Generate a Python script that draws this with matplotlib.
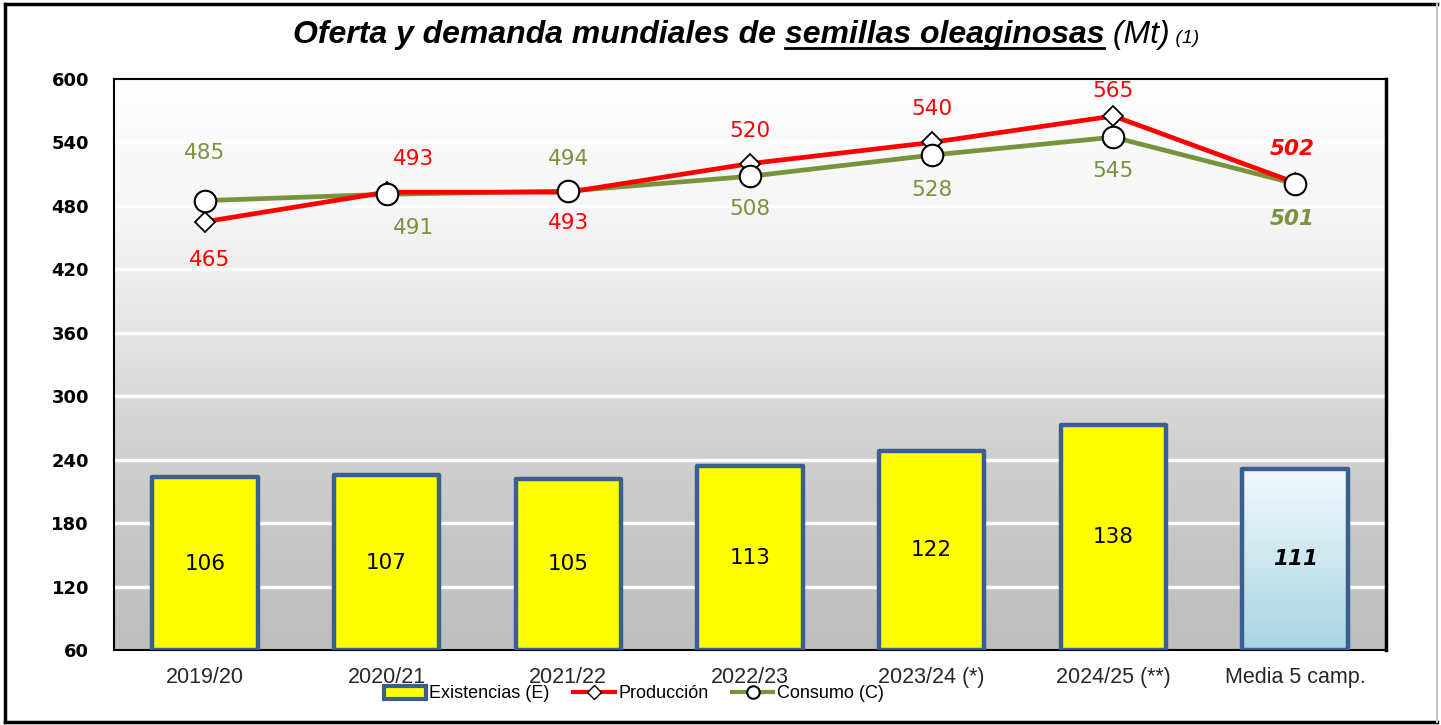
import numpy as np
import matplotlib
matplotlib.use("Agg")
import matplotlib.pyplot as plt
import matplotlib.patches as mpatches
import matplotlib.lines as mlines

# data
campaigns = ['2019/20', '2020/21', '2021/22', '2022/23', '2023/24 (*)', '2024/25 (**)', 'Media 5 camp.']
existencias = [106, 107, 105, 113, 122, 138, 111]
produccion = [465, 493, 493, 520, 540, 565, 502]
consumo = [485, 491, 494, 508, 528, 545, 501]
y_ticks = [60, 120, 180, 240, 300, 360, 420, 480, 540, 600]

# label offsets in pixels (dx, dy)
prod_off = [(5, -38), (27, 33), (0, -31), (0, 33), (0, 33), (0, 25), (-3, 34)]
cons_off = [(0, 48), (27, -34), (0, 32), (0, -33), (0, -35), (0, -34), (-3, -35)]

# background shade (grey level) at each gridline
shade_vals = [60, 120, 180, 240, 300, 360, 420, 480, 540, 600]
shade_lvls = [190, 195, 200, 207, 217, 228, 238, 246, 250, 255]

RED = '#FF0000'
GREEN = '#77933C'
EDGE = '#3A5F8F'
NUMFONT = ['DejaVu Sans']
TXTFONT = ['Liberation Sans', 'DejaVu Sans']

W, H = 1441, 725
fig = plt.figure(figsize=(W / 100, H / 100), dpi=100)
fig.patch.set_facecolor('white')

rect = [114 / W, 1 - 650 / H, 1272 / W, 571 / H]
ax = fig.add_axes(rect)
x = np.arange(len(campaigns))

# background gradient + grid
yy = np.linspace(600, 60, 540)
g = np.interp(yy, shade_vals, shade_lvls) / 255.0
img = np.repeat(g[:, None, None], 3, axis=2)
ax.imshow(img, extent=[-0.5, 6.5, 60, 600], aspect='auto', zorder=0, origin='upper')
for yv in y_ticks[1:-1]:
    ax.axhline(yv, color='white', lw=2.5, zorder=1)
ax.set_xlim(-0.5, 6.5)
ax.set_ylim(60, 600)
ax.set_yticks(y_ticks)
ax.set_yticklabels([str(v) for v in y_ticks], fontsize=13, fontweight='bold', family=NUMFONT)
ax.set_xticks(x)
ax.set_xticklabels(campaigns, fontsize=15.5, family=TXTFONT, color='#262626')
ax.tick_params(length=0, pad=12)
ax.tick_params(axis='y', pad=18)
for s in ax.spines.values():
    s.set_color('black')
    s.set_linewidth(1.5)
ax.spines['right'].set_linewidth(2.5)

# bars (secondary hidden scale)
axb = ax.twinx()
axb.set_ylim(0, 350)
axb.set_xlim(-0.5, 6.5)
axb.axis('off')
bw = 0.58
colors = ['#FFFF00'] * 6 + ['none']
bars = axb.bar(x, existencias, width=bw, color=colors, edgecolor=EDGE, linewidth=3.2, zorder=2)
for b in bars:
    b.set_joinstyle('round')
last = bars[-1]
bgrad = np.linspace(0, 1, 256).reshape(-1, 1)
btop = np.array([0.95, 0.975, 0.99])
bbot = np.array([0.66, 0.84, 0.89])
bimg = (btop + (bbot - btop) * bgrad[..., None]).reshape(256, 1, 3)
im = axb.imshow(bimg, extent=[x[-1] - bw / 2, x[-1] + bw / 2, 0, existencias[-1]],
                aspect='auto', zorder=1.5, origin='upper')
im.set_clip_path(last)
axb.set_xlim(-0.5, 6.5)
axb.set_ylim(0, 350)
for i, v in enumerate(existencias):
    if i == len(existencias) - 1:
        axb.text(x[i], v / 2, str(v), ha='center', va='center', fontsize=15.5,
                 fontweight='bold', style='italic', family=NUMFONT, zorder=3)
    else:
        axb.text(x[i], v / 2, str(v), ha='center', va='center', fontsize=15.5,
                 family=NUMFONT, zorder=3)

# lines
axl = ax.twinx()
axl.set_ylim(60, 600)
axl.set_xlim(-0.5, 6.5)
axl.axis('off')
axl.plot(x, consumo, color=GREEN, lw=3.4, zorder=3)
axl.plot(x, produccion, color=RED, lw=3.4, zorder=4)
axl.plot(x, produccion, ls='none', marker='D', ms=10, mfc='white', mec='black', mew=1.3, zorder=5)
axl.plot(x, consumo, ls='none', marker='o', ms=15.5, mfc='white', mec='black', mew=1.5, zorder=6)
for i in range(len(x)):
    bold = i == len(x) - 1
    kw = dict(fontweight='bold', style='italic') if bold else {}
    axl.annotate(str(produccion[i]), (x[i], produccion[i]), xytext=prod_off[i],
                 textcoords='offset pixels', ha='center', va='center', color=RED,
                 fontsize=15.5, family=NUMFONT, **kw)
    axl.annotate(str(consumo[i]), (x[i], consumo[i]), xytext=cons_off[i],
                 textcoords='offset pixels', ha='center', va='center', color=GREEN,
                 fontsize=15.5, family=NUMFONT, **kw)

# legend
h1 = mpatches.Patch(facecolor='#FFFF00', edgecolor=EDGE, linewidth=3)
h2 = mlines.Line2D([], [], color=RED, lw=3, marker='D', ms=7, mfc='white', mec='black')
h3 = mlines.Line2D([], [], color=GREEN, lw=3, marker='o', ms=9, mfc='white', mec='black', mew=1.5)
fig.legend([h1, h2, h3], ['Existencias (E)', 'Producción', 'Consumo (C)'],
           loc='center', bbox_to_anchor=(634 / W, 1 - 694 / H), ncol=3, frameon=False,
           prop={'family': TXTFONT, 'size': 13}, handlelength=2.3, handletextpad=0.2,
           columnspacing=1.3, borderpad=0)

# title in pieces
pieces = [("Oferta y demanda mundiales de ", dict(fontweight='bold', style='italic', fontsize=23)),
          ("semillas oleaginosas", dict(fontweight='bold', style='italic', fontsize=23)),
          (" (Mt)", dict(style='italic', fontsize=23)),
          (" (1)", dict(style='italic', fontsize=14))]
fig.canvas.draw()
r = fig.canvas.get_renderer()
texts = []
for s, kw in pieces:
    t = fig.text(0, 1 - 43 / H, s, ha='left', va='baseline', family=TXTFONT, **kw)
    texts.append(t)
widths = [t.get_window_extent(r).width for t in texts]
xs = 746 - sum(widths) / 2
for t, w in zip(texts, widths):
    t.set_x(xs / W)
    xs += w
bb = texts[1].get_window_extent(r)
fig.add_artist(mlines.Line2D([bb.x0 / W, bb.x1 / W], [1 - 48 / H, 1 - 48 / H],
                             color='black', lw=2, transform=fig.transFigure))

# outer border
fig.add_artist(mlines.Line2D([5 / W, 5 / W], [1 - 4 / H, 1 - 722 / H], color='black', lw=2.5))
fig.add_artist(mlines.Line2D([5 / W, 1437 / W], [1 - 4 / H, 1 - 4 / H], color='black', lw=2.5))
fig.add_artist(mlines.Line2D([5 / W, 1437 / W], [1 - 722 / H, 1 - 722 / H], color='black', lw=2.5))
fig.add_artist(mlines.Line2D([1437 / W, 1437 / W], [1 - 4 / H, 1 - 722 / H], color='#C8C8C8', lw=1.5))

fig.savefig('out.png', dpi=100)
